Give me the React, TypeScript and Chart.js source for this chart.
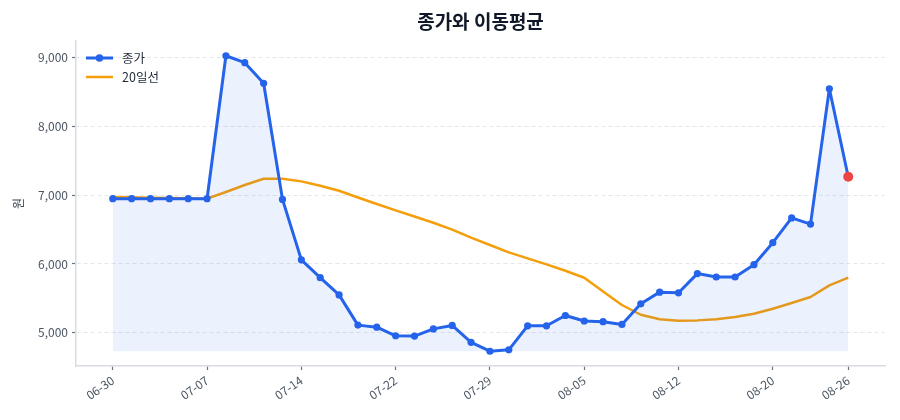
import React, { useEffect, useRef } from "react";
import { Chart, registerables } from "chart.js";

Chart.register(...registerables);

const dates = ["06-30","07-01","07-02","07-03","07-04","07-07","07-08","07-09","07-10","07-11","07-14","07-15","07-16","07-17","07-18","07-22","07-23","07-24","07-25","07-28","07-29","07-30","07-31","08-01","08-04","08-05","08-06","08-07","08-08","08-11","08-12","08-13","08-14","08-18","08-19","08-20","08-21","08-22","08-25","08-26"];

const closePrices = [6950,6950,6950,6950,6950,6950,9030,8930,8630,6940,6060,5800,5550,5110,5080,4955,4950,5055,5105,4860,4730,4750,5100,5100,5250,5170,5160,5120,5420,5590,5580,5860,5810,5810,5990,6310,6670,6580,8550,7270];

const ma20 = [6975,6970,6965,6960,6955,6950,7047,7149,7240,7240,7202,7138,7065,6968,6872,6780,6690,6600,6500,6383,6276,6169,6082,5994,5901,5799,5598,5403,5261,5195,5175,5179,5194,5229,5276,5349,5431,5519,5689,5800];

const xTickIndices = [0, 5, 10, 15, 20, 25, 30, 35, 39];
const yTickValues = [5000, 6000, 7000, 8000, 9000];

const seriesNames = ["종가", "20일선"];
const titleText = "종가와 이동평균";
const yAxisTitle = "원";

const FONT = "'Noto Sans CJK KR', 'Noto Sans', sans-serif";
const BLUE = "#2563EB";
const ORANGE = "#F59E0B";
const RED = "#EF4444";

export default function App() {
  const canvasRef = useRef<HTMLCanvasElement | null>(null);

  useEffect(() => {
    if (!canvasRef.current) return;
    const n = closePrices.length;
    const all = [...closePrices, ...ma20];
    const dMin = Math.min(...all);
    const dMax = Math.max(...all);
    const yPad = (dMax - dMin) * 0.05;
    const xPad = (n - 1) * 0.05;
    const fillBase = Math.min(...closePrices);

    const overlay = {
      id: "overlay",
      afterDraw(chart: any) {
        const { ctx, chartArea } = chart;
        ctx.save();
        // title
        ctx.fillStyle = "#111827";
        ctx.font = `bold 19px ${FONT}`;
        ctx.textAlign = "center";
        ctx.textBaseline = "middle";
        ctx.fillText(titleText, (chartArea.left + chartArea.right) / 2, 22);
        // legend
        const lx = chartArea.left + 10;
        const lw = 27;
        const rows = [chartArea.top + 17, chartArea.top + 36];
        ctx.lineCap = "butt";
        ctx.strokeStyle = BLUE;
        ctx.lineWidth = 3;
        ctx.beginPath();
        ctx.moveTo(lx, rows[0]);
        ctx.lineTo(lx + lw, rows[0]);
        ctx.stroke();
        ctx.fillStyle = BLUE;
        ctx.beginPath();
        ctx.arc(lx + lw / 2, rows[0], 3.8, 0, Math.PI * 2);
        ctx.fill();
        ctx.strokeStyle = ORANGE;
        ctx.lineWidth = 2.5;
        ctx.beginPath();
        ctx.moveTo(lx, rows[1]);
        ctx.lineTo(lx + lw, rows[1]);
        ctx.stroke();
        ctx.fillStyle = "#1F2937";
        ctx.font = `12.5px ${FONT}`;
        ctx.textAlign = "left";
        ctx.fillText(seriesNames[0], lx + 36, rows[0]);
        ctx.fillText(seriesNames[1], lx + 36, rows[1]);
        ctx.restore();
      },
    };

    const chart = new Chart(canvasRef.current, {
      type: "line",
      data: {
        datasets: [
          {
            label: seriesNames[0],
            data: closePrices.map((v, i) => ({ x: i, y: v })),
            borderColor: BLUE,
            borderWidth: 3,
            borderJoinStyle: "round",
            backgroundColor: "rgba(37,99,235,0.085)",
            fill: { value: fillBase },
            pointRadius: (c: any) => (c.dataIndex === n - 1 ? 5 : 3.6),
            pointBackgroundColor: (c: any) => (c.dataIndex === n - 1 ? RED : BLUE),
            pointBorderColor: (c: any) => (c.dataIndex === n - 1 ? RED : BLUE),
            pointBorderWidth: 0,
            tension: 0,
            order: 0,
          },
          {
            label: seriesNames[1],
            data: ma20.map((v, i) => ({ x: i, y: v })),
            borderColor: ORANGE,
            borderWidth: 2.5,
            borderJoinStyle: "round",
            pointRadius: 0,
            fill: false,
            tension: 0,
            order: 1,
          },
        ],
      },
      options: {
        animation: false,
        responsive: true,
        maintainAspectRatio: false,
        layout: { padding: { top: 41, right: 15, left: 0, bottom: 0 } },
        plugins: {
          legend: { display: false },
          title: { display: false },
          tooltip: { enabled: false },
        },
        scales: {
          x: {
            type: "linear",
            min: -xPad,
            max: n - 1 + xPad,
            afterBuildTicks: (scale: any) => {
              scale.ticks = xTickIndices.map((v) => ({ value: v }));
            },
            afterFit: (scale: any) => {
              scale.height = 54;
            },
            ticks: {
              autoSkip: false,
              minRotation: 35,
              maxRotation: 35,
              color: "#4B5563",
              font: { family: FONT, size: 12 },
              padding: 3,
              callback: (v: any) => dates[Number(v)] ?? "",
            },
            grid: {
              drawOnChartArea: false,
              drawTicks: true,
              tickLength: 4,
              tickColor: "#6B7280",
              tickWidth: 1.2,
            },
            border: { display: true, color: "#D9DCE1", width: 1.5 },
          },
          y: {
            type: "linear",
            min: dMin - yPad,
            max: dMax + yPad,
            afterBuildTicks: (scale: any) => {
              scale.ticks = yTickValues.map((v) => ({ value: v }));
            },
            afterFit: (scale: any) => {
              scale.width = 76;
            },
            ticks: {
              color: "#4B5563",
              font: { family: FONT, size: 12 },
              padding: 4,
              callback: (v: any) => Number(v).toLocaleString("en-US"),
            },
            grid: {
              color: "#E5E7EB",
              lineWidth: 1,
              drawTicks: true,
              tickLength: 4,
              tickColor: "#6B7280",
              tickWidth: 1.2,
              tickBorderDash: [],
            },
            border: { display: true, color: "#D9DCE1", width: 1.5, dash: [4, 3] },
            title: {
              display: true,
              text: yAxisTitle,
              color: "#374151",
              font: { family: FONT, size: 12 },
              padding: { top: 11, bottom: 0 },
            },
          },
        },
      },
      plugins: [overlay],
    } as any);

    return () => chart.destroy();
  }, []);

  return (
    <div style={{ position: "fixed", left: 0, top: 0, width: 900, height: 420, background: "#fff" }}>
      <canvas ref={canvasRef} />
    </div>
  );
}
